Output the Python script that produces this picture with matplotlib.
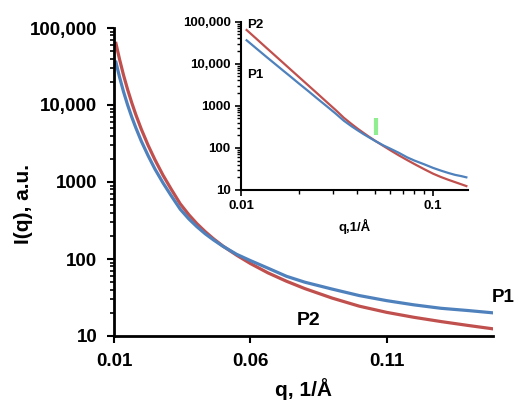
import numpy as np
import matplotlib
matplotlib.use('Agg')
import matplotlib.pyplot as plt
from matplotlib.ticker import FixedLocator, LogLocator, NullFormatter

plt.rcParams['font.family'] = ['Liberation Sans', 'DejaVu Sans']
plt.rcParams['font.weight'] = 'bold'

# scattering curves
q = [0.0107, 0.012, 0.0135, 0.015, 0.0165, 0.018, 0.020, 0.0225, 0.025,
     0.028, 0.031, 0.0343, 0.0375, 0.0404, 0.0435, 0.0465, 0.050, 0.055,
     0.060, 0.0665, 0.0733, 0.080, 0.090, 0.100, 0.110, 0.120, 0.130,
     0.140, 0.149]
p1 = [36000, 23200, 14800, 9980, 6980, 5060, 3400, 2200, 1476,
      970, 662, 443, 330, 263, 212, 177, 146, 115,
      95.5, 76, 59.6, 50, 40.7, 33.5, 28.8, 25.4, 22.9,
      21.4, 20]
p2 = [63100, 39500, 24300, 15800, 10700, 7480, 4860, 3000, 1950,
      1220, 805, 520, 374, 288, 226, 183, 147, 112,
      87.5, 66, 51.4, 41.3, 31.1, 24.4, 20.3, 17.5, 15.4,
      13.7, 12.4]

ytick_vals = [10, 100, 1000, 10000, 100000]
ytick_labels = ['10', '100', '1000', '10,000', '100,000']
xtick_main = [0.01, 0.06, 0.11]
xtick_inset = [0.01, 0.1]

# small green mark near the crossover in the inset
marker_q = 0.0507
marker_span = (205, 510)

red = '#C0504D'
blue = '#4F81BD'

fig = plt.figure(figsize=(5.16, 4.0), dpi=100)
ax = fig.add_axes([0.221, 0.16, 0.734, 0.77])

ax.plot(q, p2, color=red, lw=2.3)
ax.plot(q, p1, color=blue, lw=2.3)
ax.set_yscale('log')
ax.set_ylim(10, 100000)
ax.set_xlim(0.01, 0.149)
ax.yaxis.set_major_locator(FixedLocator(ytick_vals))
ax.set_yticklabels(ytick_labels)
ax.yaxis.set_minor_locator(LogLocator(base=10, subs=np.arange(2, 10)))
ax.yaxis.set_minor_formatter(NullFormatter())
ax.set_xticks(xtick_main)
ax.set_xticklabels([str(v) for v in xtick_main])
for s in ['top', 'right']:
    ax.spines[s].set_visible(False)
for s in ['left', 'bottom']:
    ax.spines[s].set_linewidth(2)
ax.tick_params(axis='y', which='major', labelsize=13.5, width=1.5, length=5, pad=7)
ax.tick_params(axis='x', which='major', labelsize=13.5, width=1.5, length=5, pad=7)
ax.tick_params(axis='y', which='minor', width=1.2, length=3)
ax.set_xlabel('q, 1/Å', fontsize=15, fontweight='bold', labelpad=6)
ax.set_ylabel('I(q), a.u.', fontsize=15, fontweight='bold')
ax.yaxis.set_label_coords(-0.214, 0.427)

fig.text(0.998, (400 - 298) / 400, 'P1', fontsize=13.5, fontweight='bold', ha='right', va='center')
ax.text(0.0771, 16, 'P2', fontsize=14, fontweight='bold', ha='left', va='center')

# inset, log-log
ins = fig.add_axes([0.467, 0.525, 0.44, 0.421])
ins.patch.set_alpha(0)
ins.plot(q, p2, color=red, lw=1.6)
ins.plot(q, p1, color=blue, lw=1.6)
ins.set_xscale('log')
ins.set_yscale('log')
ins.set_xlim(0.01, 0.152)
ins.set_ylim(10, 100000)
ins.yaxis.set_major_locator(FixedLocator(ytick_vals))
ins.set_yticklabels(ytick_labels)
ins.yaxis.set_minor_locator(LogLocator(base=10, subs=np.arange(2, 10)))
ins.yaxis.set_minor_formatter(NullFormatter())
ins.xaxis.set_major_locator(FixedLocator(xtick_inset))
ins.set_xticklabels(['0.01', '0.1'])
ins.xaxis.set_minor_locator(LogLocator(base=10, subs=np.arange(2, 10)))
ins.xaxis.set_minor_formatter(NullFormatter())
for s in ['top', 'right']:
    ins.spines[s].set_visible(False)
for s in ['left', 'bottom']:
    ins.spines[s].set_linewidth(1.5)
ins.tick_params(axis='both', which='major', labelsize=9.5, width=1.2, length=4)
ins.tick_params(axis='both', which='minor', width=1, length=3)
ins.set_xlabel('q,1/Å', fontsize=9.5, fontweight='bold', labelpad=5)

ins.vlines(marker_q, marker_span[0], marker_span[1], color='#90EE90', lw=3)
ins.text(0.0108, 82000, 'P2', fontsize=9.5, fontweight='bold', ha='left', va='center')
ins.text(0.0108, 5500, 'P1', fontsize=9.5, fontweight='bold', ha='left', va='center')

fig.savefig('out.png', dpi=100)
